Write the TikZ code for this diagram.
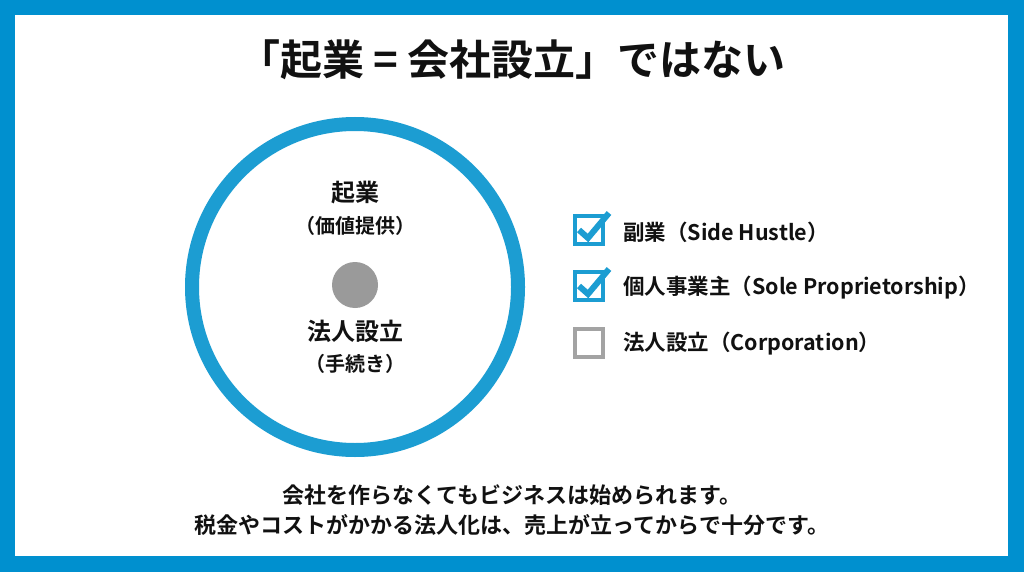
\documentclass[tikz,border=0pt]{standalone}
\usepackage{fontspec}
\setmainfont{Noto Sans CJK JP}[BoldFont={Noto Sans CJK JP Bold}]
\usetikzlibrary{positioning}
\definecolor{frameblue}{HTML}{0090CF}
\definecolor{ringblue}{HTML}{1C9DD2}
\definecolor{dotgray}{HTML}{9A9A9A}
\definecolor{boxgray}{HTML}{A3A3A3}
\definecolor{ink}{HTML}{111111}
\tikzset{
  lbl/.style={text=ink,inner sep=0pt,font=\bfseries\fontsize{#1}{#1}\selectfont},
  cbox/.style={draw=#1,line width=3.5pt,minimum size=28pt,inner sep=0pt},
  tick/.style={draw=ringblue,line width=6pt,line join=miter}
}
\begin{document}
\begin{tikzpicture}[x=1pt,y=-1pt]
\pgfmathsetmacro{\cx}{355}
\pgfmathsetmacro{\cy}{287}
\pgfmathsetmacro{\listx}{623}
\pgfmathsetmacro{\boxx}{589}
  \fill[frameblue] (0,0) rectangle (1024,572);
  \fill[white] (15,15) rectangle (1008,556);
  \useasboundingbox (0,0) rectangle (1024,572);
  % title
  \node[lbl=42] (title) at (512,60) {「起業 = 会社設立」ではない};
  % circle
  \draw[ringblue,line width=14pt] (\cx,\cy) circle (163pt);
  \fill[dotgray] (\cx,285) circle (23pt);
  \node[lbl=24] (kigyo) at (\cx,193) {起業};
  \node[lbl=20] (kachi) at (\cx,226) {（価値提供）};
  \node[lbl=24] (hojin) at (\cx,331) {法人設立};
  \node[lbl=20] (tetsu) at (\cx,364) {（手続き）};
  % checklist
  \node[cbox=ringblue] (cb1) at (\boxx,230) {};
  \node[cbox=ringblue] (cb2) at (\boxx,286) {};
  \node[cbox=boxgray] (cb3) at (\boxx,343) {};
  \draw[tick] ([xshift=-10pt]cb1.center) -- ([xshift=-1pt,yshift=-8pt]cb1.center) -- ([xshift=20pt,yshift=17pt]cb1.center);
  \draw[tick] ([xshift=-10pt]cb2.center) -- ([xshift=-1pt,yshift=-8pt]cb2.center) -- ([xshift=20pt,yshift=17pt]cb2.center);
  \node[lbl=21.5,anchor=west] (side) at (\listx,232) {副業（Side Hustle）};
  \node[lbl=21.5,anchor=west] (sole) at (\listx,288) {個人事業主（Sole Proprietorship）};
  \node[lbl=21.5,anchor=west] (corp) at (\listx,344) {法人設立（Corporation）};
  % bottom note
  \node[lbl=22] (note1) at (512,495) {会社を作らなくてもビジネスは始められます。};
  \node[lbl=22] (note2) at (512,525) {税金やコストがかかる法人化は、売上が立ってからで十分です。};
\end{tikzpicture}
\end{document}
